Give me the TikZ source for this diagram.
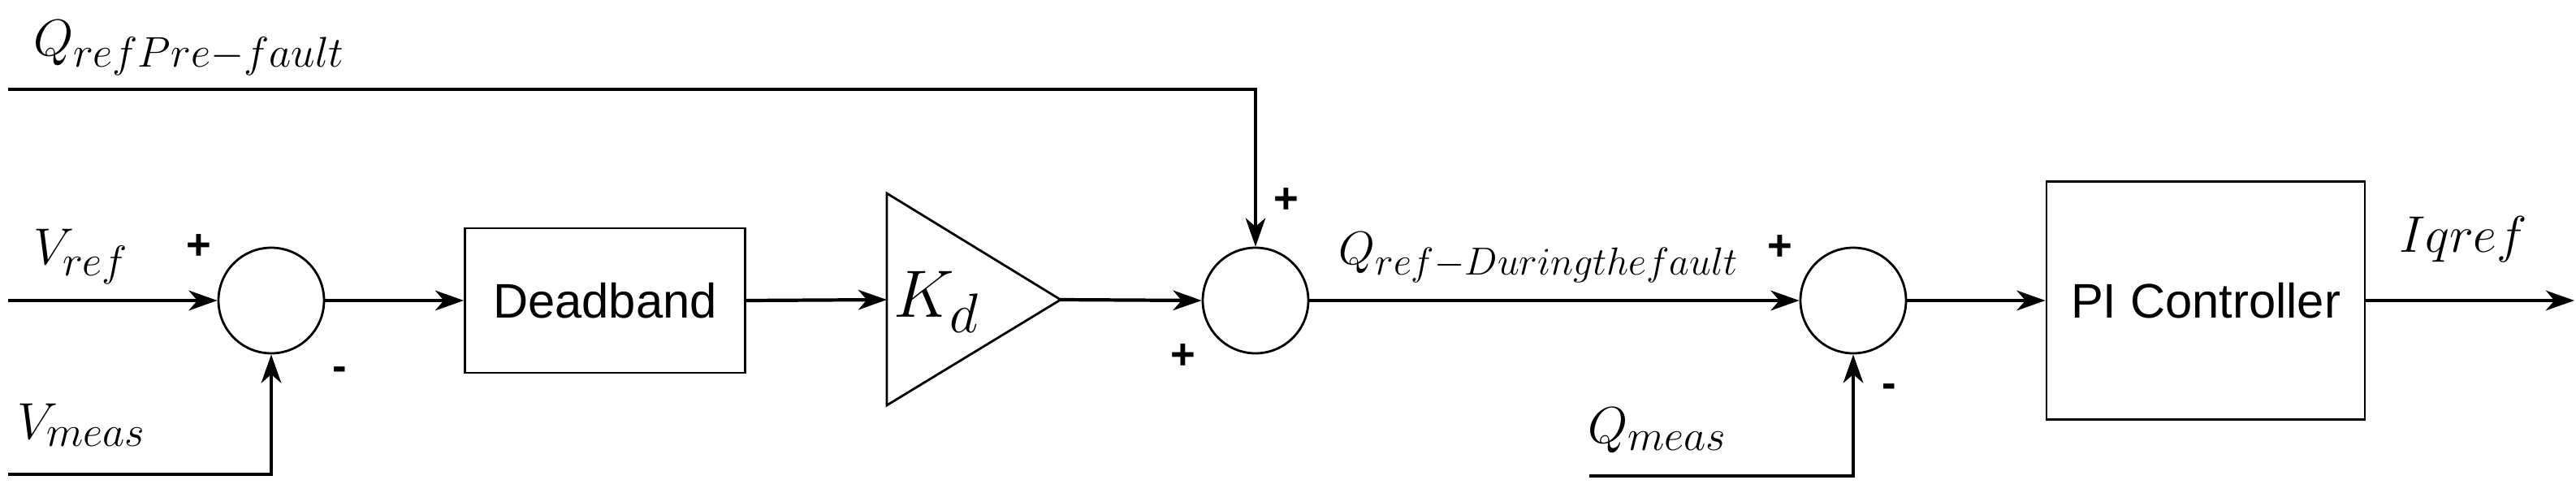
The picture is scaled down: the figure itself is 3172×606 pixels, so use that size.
\documentclass[tikz,border=0pt]{standalone}
\usepackage{fontspec}
\newfontfamily\sansf{Liberation Sans}
\usetikzlibrary{arrows.meta,shapes.geometric}
\begin{document}
\begin{tikzpicture}[x=0.02cm,y=-0.02cm,
  line width=2.4pt,
  arr/.style={-{Stealth[length=20pt,width=14pt,inset=6pt]}},
  sum/.style={circle,draw,line width=1.6pt,minimum size=130*0.02cm,inner sep=0pt},
  blk/.style={draw,line width=1.6pt,inner sep=0pt,font=\sansf\fontsize{34}{40}\selectfont},
  ml/.style={font=\Huge,scale=1.45,inner sep=0pt},
  sg/.style={font=\sansf\bfseries\fontsize{30}{34}\selectfont,inner sep=0pt}]
\useasboundingbox (0,0) rectangle (3172,606);
\node[sum] (s1) at (334,370) {};
\node[blk,minimum width=345*0.02cm,minimum height=178*0.02cm] (db) at (745,370) {Deadband};
\coordinate (t1) at (1092,238);
\coordinate (t2) at (1092,499);
\coordinate (t3) at (1306,369);
\draw[line width=1.6pt] (t1) -- (t3) -- (t2) -- cycle;
\node[ml,scale=1.3,anchor=west] (kd) at (1097,372) {$K_d$};
\node[sum] (s2) at (1546,370) {};
\node[sum] (s3) at (2282,370) {};
\node[blk,minimum width=392*0.02cm,minimum height=293*0.02cm] (pi) at (2716,370) {PI Controller};
\coordinate (vin) at (10,370);
\coordinate (vm) at (10,584);
\coordinate (qin) at (10,110);
\coordinate (qc) at (1546,110);
\coordinate (qm) at (1957,586);
\coordinate (out) at (3170,370);
\draw[arr] (vin) -- (s1.west);
\draw[arr] (vm) -| (s1.south);
\draw[arr] (s1.east) -- (db.west);
\draw[arr] (db.east) -- (1092,369);
\draw[arr] (t3) -- (s2.west);
\draw[arr,line width=1.8pt] (qin) -- (qc) -- (s2.north);
\draw[arr] (s2.east) -- (s3.west);
\draw[arr,line width=1.8pt] (qm) -| (s3.south);
\draw[arr] (s3.east) -- (pi.west);
\draw[arr] (pi.east) -- (out);
\node[ml,anchor=base west] (l1) at (38,68) {$Q_{refPre-fault}$};
\node[ml,anchor=base west] (l2) at (38,325) {$V_{ref}$};
\node[ml,anchor=base west] (l3) at (18,540) {$V_{meas}$};
\node[font=\Huge,scale=1.32,inner sep=0pt,anchor=base west] (l4) at (1646,325) {$Q_{ref-During the fault}$};
\node[ml,anchor=base west] (l5) at (1952,545) {$Q_{meas}$};
\node[ml,anchor=base west] (l6) at (2951,310) {$Iqref$};
\node[sg] (p1) at (245,304) {+};
\node[sg] (m1) at (418,460) {-};
\node[sg] (p2) at (1584,247) {+};
\node[sg] (p3) at (1457,439) {+};
\node[sg] (p4) at (2192,305) {+};
\node[sg] (m3) at (2326,481) {-};
\end{tikzpicture}
\end{document}
